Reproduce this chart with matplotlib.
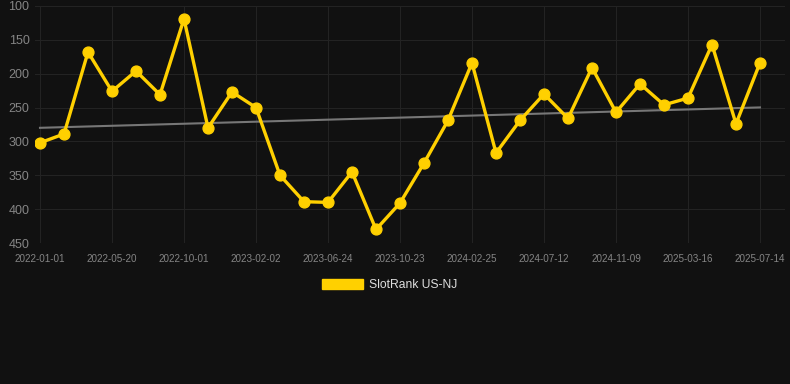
import matplotlib
matplotlib.use("Agg")
import matplotlib.pyplot as plt
import numpy as np
from matplotlib.patches import Patch

plt.rcParams["font.family"] = ["Liberation Sans", "DejaVu Sans"]

ranks = [302, 289, 168, 226, 196, 231, 119, 280, 227, 250,
         350, 389, 390, 345, 430, 391, 332, 269, 184, 317,
         269, 230, 266, 191, 257, 215, 246, 236, 157, 274, 184]
tick_labels = ["2022-01-01", "2022-05-20", "2022-10-01", "2023-02-02",
               "2023-06-24", "2023-10-23", "2024-02-25", "2024-07-12",
               "2024-11-09", "2025-03-16", "2025-07-14"]
tick_every = 3
y_ticks = [100, 150, 200, 250, 300, 350, 400, 450]
series_name = "SlotRank US-NJ"

bg = "#111111"
gold = "#FFD000"

x = np.arange(len(ranks))

fig = plt.figure(figsize=(7.9, 3.84), dpi=100, facecolor=bg)
ax = fig.add_axes([35 / 790, 1 - 243 / 384, 750 / 790, 237 / 384], facecolor=bg)

# trend line (least squares)
coef = np.polyfit(x, ranks, 1)
ax.plot(x, np.polyval(coef, x), color="#777777", lw=1.5, zorder=2)

ax.plot(x, ranks, color=gold, lw=2.4, marker="o", ms=7.8, zorder=3)

span = x[-1] - x[0]
ax.set_xlim(x[0] - span * 5 / 720, x[-1] + span * 25 / 720)
ax.set_ylim(450, 100)
ax.set_yticks(y_ticks)
ax.set_xticks(x[::tick_every])
ax.set_xticklabels(tick_labels)

ax.grid(True, color="#232323", lw=0.8)
ax.set_axisbelow(True)
for s in ax.spines.values():
    s.set_visible(False)
ax.tick_params(axis="y", colors="#858585", labelsize=9, length=0, pad=4)
ax.tick_params(axis="x", colors="#858585", labelsize=7.1, length=0, pad=8)

fig.legend(handles=[Patch(facecolor=gold, edgecolor=gold, label=series_name)],
           loc="center", bbox_to_anchor=(0.5 - 5 / 790, 1 - 285 / 384), frameon=False,
           handlelength=3.4, handleheight=0.9, handletextpad=0.5,
           labelcolor="#dddddd", fontsize=8.7)

fig.savefig("out.png", dpi=100, facecolor=bg)
